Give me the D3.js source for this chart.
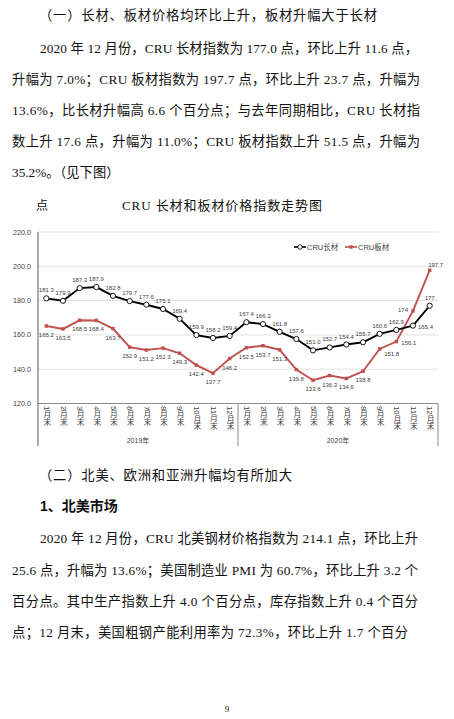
<!DOCTYPE html>
<html>
<head>
<meta charset="utf-8">
<script src="https://cdn.jsdelivr.net/npm/d3@7"></script>
<style>
  body { margin: 0; background: #fff; }
  svg { display: block; }
  .serif { font-family: "Liberation Serif", "Noto Sans CJK SC", serif; fill: #111; }
  .sans { font-family: "Liberation Sans", "Noto Sans CJK SC", sans-serif; }
</style>
</head>
<body>
<div id="page"></div>
<script>
// ---- chart data ----
const years = ["2019年", "2020年"];
const monthLabels = ["1月末", "2月末", "3月末", "4月末", "5月末", "6月末",
  "7月末", "8月末", "9月末", "10月末", "11月末", "12月末"];
const seriesNames = ["CRU长材", "CRU板材"];
const longValues = [181.3, 179.9, 187.3, 187.9, 182.8, 179.7, 177.6, 175.1, 169.4, 159.9, 158.2, 159.4,
  167.4, 166.3, 161.8, 157.6, 151.0, 152.7, 154.4, 155.7, 160.6, 162.9, 165.4, 177];
const plateValues = [165.2, 163.5, 168.5, 168.4, 163.7, 152.9, 151.2, 152.3, 149.3, 142.4, 137.7, 146.2,
  152.5, 153.7, 151.3, 139.8, 133.6, 136.3, 134.6, 138.8, 151.8, 156.1, 174, 197.7];
const yTicks = [120, 140, 160, 180, 200, 220];

// ---- page text ----
const heading1 = "（一）长材、板材价格均环比上升，板材升幅大于长材";
const para1 = [
  "2020 年 12 月份，CRU 长材指数为 177.0 点，环比上升 11.6 点，",
  "升幅为 7.0%；CRU 板材指数为 197.7 点，环比上升 23.7 点，升幅为",
  "13.6%，比长材升幅高 6.6 个百分点；与去年同期相比，CRU 长材指",
  "数上升 17.6 点，升幅为 11.0%；CRU 板材指数上升 51.5 点，升幅为",
  "35.2%。（见下图）"
];
const chartTitle = "CRU 长材和板材价格指数走势图";
const unitLabel = "点";
const heading2 = "（二）北美、欧洲和亚洲升幅均有所加大";
const heading3 = "1、北美市场";
const para2 = [
  "2020 年 12 月份，CRU 北美钢材价格指数为 214.1 点，环比上升",
  "25.6 点，升幅为 13.6%；美国制造业 PMI 为 60.7%，环比上升 3.2 个",
  "百分点。其中生产指数上升 4.0 个百分点，库存指数上升 0.4 个百分",
  "点；12 月末，美国粗钢产能利用率为 72.3%，环比上升 1.7 个百分"
];
const pageNumber = "9";

const W = 454, H = 719;
const svg = d3.select("#page").append("svg")
  .attr("width", W).attr("height", H);
svg.append("rect").attr("width", W).attr("height", H).attr("fill", "#fff");

// justified text line helper
function textLine(str, x, y, opts = {}) {
  const t = svg.append("text")
    .attr("class", opts.cls || "serif")
    .attr("x", x).attr("y", y)
    .attr("font-size", opts.size || 13.3)
    .text(str);
  if (opts.len) t.attr("textLength", opts.len).attr("lengthAdjust", "spacing");
  if (opts.weight) t.attr("font-weight", opts.weight);
  return t;
}

textLine(heading1, 39, 20, { len: 338 });
const p1y = [53, 84, 115, 146, 177];
para1.forEach((s, i) => {
  const last = i === para1.length - 1;
  textLine(s, i === 0 ? 40 : 12, p1y[i], { len: last ? null : (i === 0 ? 378 : 408) });
});

// ---- chart ----
const plotL = 38, plotR = 438, plotT = 232, plotB = 403.5;
const x = d3.scaleBand().domain(d3.range(24)).range([plotL, plotR]);
const cx = i => x(i) + x.bandwidth() / 2;
const y = d3.scaleLinear().domain([120, 220]).range([plotB, plotT]);
const red = "#c0504d";

textLine(unitLabel, 36, 210, { size: 12 }).attr("fill", "#333");
textLine(chartTitle, 122, 210, { len: 200, size: 13 }).attr("fill", "#333");

const chart = svg.append("g");

// gridlines
chart.append("g").selectAll("line").data(yTicks.filter(d => d > 120)).join("line")
  .attr("x1", plotL).attr("x2", plotR)
  .attr("y1", d => y(d)).attr("y2", d => y(d))
  .attr("stroke", "#d9d9d9").attr("stroke-width", 0.8);

// y tick labels
chart.append("g").selectAll("text").data(yTicks).join("text")
  .attr("class", "sans")
  .attr("x", 31).attr("y", d => y(d) + 2.5)
  .attr("text-anchor", "end")
  .attr("font-size", 7.2).attr("fill", "#404040")
  .text(d => d3.format(".1f")(d));

// axes and category box
const boxBottom = 446;
chart.append("line").attr("x1", plotL).attr("x2", plotR).attr("y1", plotB).attr("y2", plotB)
  .attr("stroke", "#8c8c8c").attr("stroke-width", 1);
chart.append("line").attr("x1", plotL).attr("x2", plotL).attr("y1", plotT).attr("y2", boxBottom)
  .attr("stroke", "#595959").attr("stroke-width", 1);
[12, 24].forEach(k => {
  const xx = k === 24 ? plotR : x(k);
  chart.append("line").attr("x1", xx).attr("x2", xx).attr("y1", plotB).attr("y2", boxBottom)
    .attr("stroke", "#8c8c8c").attr("stroke-width", 1);
});

// month labels (vertical)
chart.append("g").selectAll("text").data(d3.range(24)).join("text")
  .attr("class", "sans")
  .attr("x", i => cx(i)).attr("y", 406)
  .attr("font-size", 7.8).attr("fill", "#404040")
  .style("writing-mode", "vertical-rl")
  .style("text-orientation", "mixed")
  .text(i => monthLabels[i % 12]);

// year labels
chart.append("g").selectAll("text").data(years).join("text")
  .attr("class", "sans")
  .attr("x", (d, k) => (x(k * 12) + (k === 1 ? plotR : x(12))) / 2)
  .attr("y", 443)
  .attr("text-anchor", "middle")
  .attr("font-size", 7).attr("fill", "#404040")
  .text(d => d);

// lines
const line = d3.line().x((d, i) => cx(i)).y(d => y(d));
chart.append("path").datum(plateValues).attr("d", line)
  .attr("fill", "none").attr("stroke", red).attr("stroke-width", 1.9);
chart.append("path").datum(longValues).attr("d", line)
  .attr("fill", "none").attr("stroke", "#000").attr("stroke-width", 1.9);

// markers
const sq = d3.symbol().type(d3.symbolSquare).size(12);
chart.append("g").selectAll("path").data(plateValues).join("path")
  .attr("d", sq).attr("transform", (d, i) => `translate(${cx(i)},${y(d)})`)
  .attr("fill", red);
chart.append("g").selectAll("circle").data(longValues).join("circle")
  .attr("cx", (d, i) => cx(i)).attr("cy", d => y(d)).attr("r", 2.6)
  .attr("fill", "#fff").attr("stroke", "#000").attr("stroke-width", 0.9);

// data labels
const wholeLabel = { long: [23], plate: [22] };
const longPlace = { 22: "right" };
const platePlace = { 20: "belowRight", 21: "right", 22: "left", 23: "aboveRight" };
function place(kind, px, py) {
  switch (kind) {
    case "above": return [px, py - 6, "middle"];
    case "below": return [px, py + 11, "middle"];
    case "right": return [px + 5, py + 3, "start"];
    case "left": return [px - 5, py + 1, "end"];
    case "belowRight": return [px + 12, py + 7, "middle"];
    case "aboveRight": return [px + 6, py - 3, "middle"];
  }
}
function labels(values, def, overrides, whole) {
  chart.append("g").selectAll("text").data(values).join("text")
    .attr("class", "sans")
    .attr("font-size", 6).attr("fill", "#404040")
    .each(function (d, i) {
      const [lx, ly, anchor] = place(overrides[i] || def, cx(i), y(d));
      d3.select(this).attr("x", lx).attr("y", ly).attr("text-anchor", anchor)
        .text(whole.includes(i) ? String(d) : d3.format(".1f")(d));
    });
}
labels(longValues, "above", longPlace, wholeLabel.long);
labels(plateValues, "below", platePlace, wholeLabel.plate);

// legend
const legend = chart.append("g");
const legendItems = [{ x: 294, color: "#000" }, { x: 345, color: red }];
legendItems.forEach((it, k) => {
  const g = legend.append("g").attr("transform", `translate(${it.x},247)`);
  g.append("line").attr("x1", 0).attr("x2", 12).attr("stroke", it.color).attr("stroke-width", 1.6);
  if (k === 0) {
    g.append("circle").attr("cx", 6).attr("r", 2.2).attr("fill", "#fff").attr("stroke", "#000").attr("stroke-width", 0.8);
  } else {
    g.append("path").attr("d", sq).attr("transform", "translate(6,0)").attr("fill", red);
  }
  g.append("text").attr("class", "sans").attr("x", 13).attr("y", 2.6)
    .attr("font-size", 7.5).attr("fill", "#404040").text(seriesNames[k]);
});

// ---- second section ----
textLine(heading2, 39, 480, { len: 253 });
textLine(heading3, 40, 511, { cls: "sans", size: 14, weight: "bold" }).attr("fill", "#111");
const p2y = [543, 575, 606, 637];
const p2len = [378, 406, 406, 396];
para2.forEach((s, i) => {
  textLine(s, i === 0 ? 40 : 12, p2y[i], { len: p2len[i] });
});
textLine(pageNumber, 227, 712, { size: 9 }).attr("text-anchor", "middle");
</script>
</body>
</html>
